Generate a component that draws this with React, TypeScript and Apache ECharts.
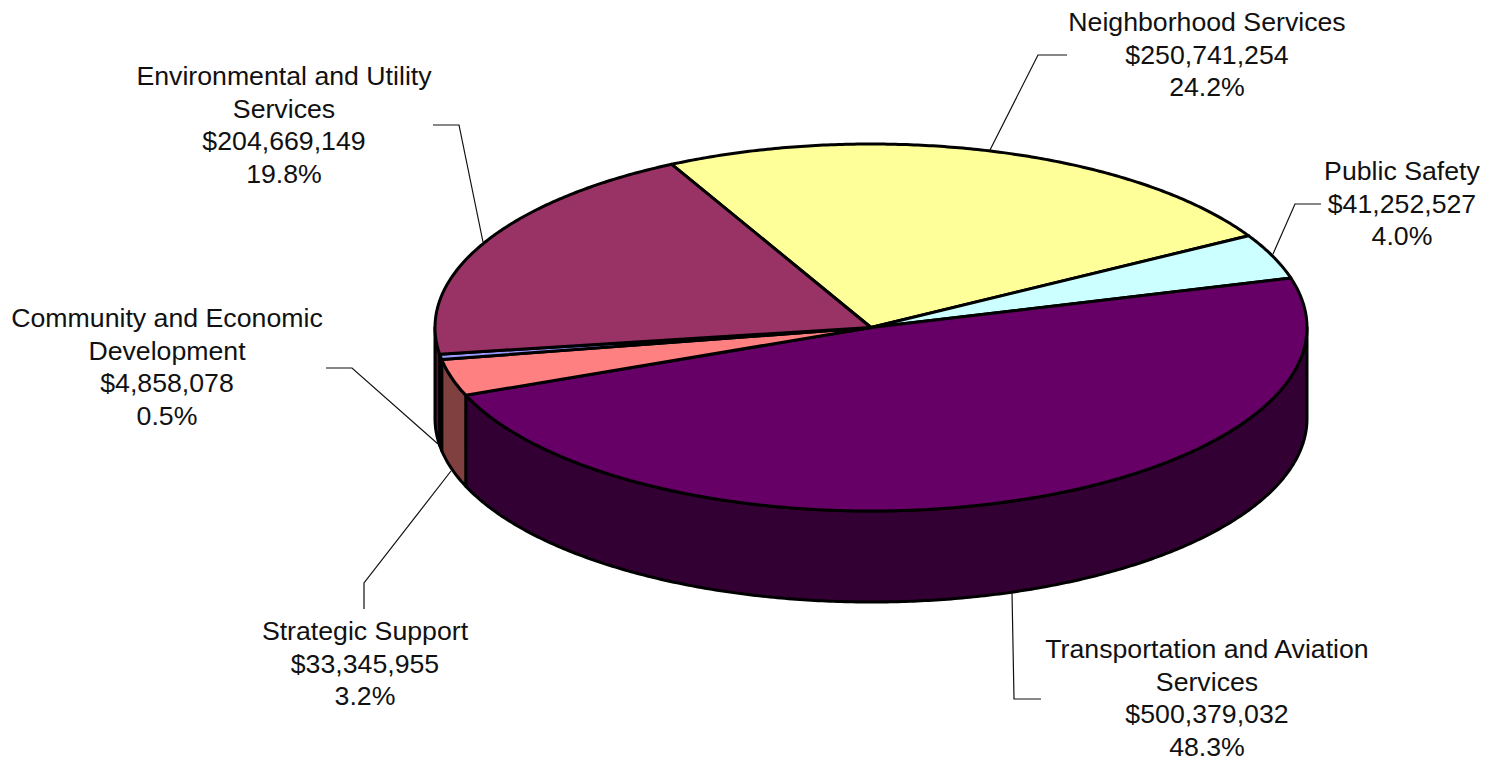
import React, { useEffect, useRef } from "react";
import * as echarts from "echarts";

const categories = [
  "Neighborhood Services",
  "Public Safety",
  "Transportation and Aviation Services",
  "Strategic Support",
  "Community and Economic Development",
  "Environmental and Utility Services",
];
const budgetValues = [250741254, 41252527, 500379032, 33345955, 4858078, 204669149];
const labelTitles = [
  "Neighborhood Services",
  "Public Safety",
  "Transportation and Aviation\nServices",
  "Strategic Support",
  "Community and Economic\nDevelopment",
  "Environmental and Utility\nServices",
];
const topColors = ["#FFFF99", "#CCFFFF", "#660066", "#FF8080", "#9999FF", "#993366"];
const sideColors = ["#808050", "#668080", "#330033", "#804040", "#4D4D80", "#4D1933"];

// Layout of the projected pie (pixels)
const CX = 871;
const CY = 327.5;
const RX = 436;
const RY = 183.5;
const DEPTH = 91;
const START_DEG = -117.2;
const FONT_SIZE = 26.7;
const LINE_H = 32.7;

// [centre x, top line centre y] for each label
const labelAnchors: number[][] = [
  [1207, 22],
  [1402, 171],
  [1207, 649],
  [365, 631],
  [167, 318],
  [284, 76],
];
// Leader lines: from label, via elbow, to the pie
const leaderPaths: number[][][] = [
  [[1067, 55], [1038, 55], [990, 150]],
  [[1321, 204], [1295, 204], [1273, 254]],
  [[1041, 699], [1014, 699], [1012, 592]],
  [[364, 609], [364, 583], [451, 471]],
  [[326, 368], [352, 368], [438, 444]],
  [[433, 125], [459, 125], [483, 242]],
];

const total = budgetValues.reduce((a, b) => a + b, 0);

function sliceRange(i: number): [number, number] {
  let sum = 0;
  for (let k = 0; k < i; k++) sum += budgetValues[k];
  const a = START_DEG + (sum / total) * 360;
  return [a, a + (budgetValues[i] / total) * 360];
}

function rimPoint(deg: number, dy = 0): number[] {
  const r = (deg * Math.PI) / 180;
  return [CX + RX * Math.cos(r), CY + RY * Math.sin(r) + dy];
}

function arcPoints(a: number, b: number, dy = 0): number[][] {
  const n = Math.max(2, Math.ceil(Math.abs(b - a) * 2));
  const pts: number[][] = [];
  for (let i = 0; i <= n; i++) pts.push(rimPoint(a + ((b - a) * i) / n, dy));
  return pts;
}

const outline = { stroke: "#000", lineWidth: 3, lineJoin: "round" };

function renderSide(params: any) {
  const [a, b] = sliceRange(params.dataIndex);
  // Wall is visible only on the front half of the rim
  const from = Math.max(a, 0);
  const to = Math.min(b, 180);
  if (to <= from) return { type: "group", children: [] };
  const pts = arcPoints(from, to).concat(arcPoints(to, from, DEPTH));
  return {
    type: "polygon",
    shape: { points: pts },
    style: { fill: sideColors[params.dataIndex], ...outline },
  };
}

function renderTop(params: any) {
  const [a, b] = sliceRange(params.dataIndex);
  const pts = [[CX, CY]].concat(arcPoints(a, b));
  return {
    type: "polygon",
    shape: { points: pts },
    style: { fill: topColors[params.dataIndex], ...outline },
  };
}

function renderLeader(params: any) {
  return {
    type: "polyline",
    shape: { points: leaderPaths[params.dataIndex] },
    style: { fill: "none", stroke: "#111", lineWidth: 1.2 },
  };
}

function renderLabel(params: any, api: any) {
  const i = params.dataIndex;
  const v = api.value(0) as number;
  const money = "$" + v.toLocaleString("en-US");
  const pct = ((v / total) * 100).toFixed(1) + "%";
  const [x, y] = labelAnchors[i];
  const text = `${labelTitles[i]}\n${money}\n${pct}`;
  return {
    type: "text",
    style: {
      text,
      x,
      y: y - LINE_H / 2,
      align: "center",
      verticalAlign: "top",
      fill: "#111",
      fontFamily: '"Liberation Sans", Arial, sans-serif',
      fontSize: FONT_SIZE,
      lineHeight: LINE_H,
    },
  };
}

export default function App() {
  const ref = useRef<HTMLDivElement>(null);
  useEffect(() => {
    const chart = echarts.init(ref.current!, undefined, { renderer: "svg" });
    const data = budgetValues.map((value, i) => ({ name: categories[i], value }));
    const base = { type: "custom", coordinateSystem: "none", data, silent: true, clip: false };
    chart.setOption({
      animation: false,
      backgroundColor: "#ffffff",
      tooltip: { show: false },
      series: [
        { ...base, name: "side", renderItem: renderSide, z: 2 },
        { ...base, name: "top", renderItem: renderTop, z: 3 },
        { ...base, name: "leaders", renderItem: renderLeader, z: 1 },
        { ...base, name: "labels", renderItem: renderLabel, z: 4 },
      ],
    });
    return () => chart.dispose();
  }, []);
  return (
    <div
      ref={ref}
      style={{ position: "absolute", left: 0, top: 0, width: 1485, height: 761 }}
    />
  );
}
